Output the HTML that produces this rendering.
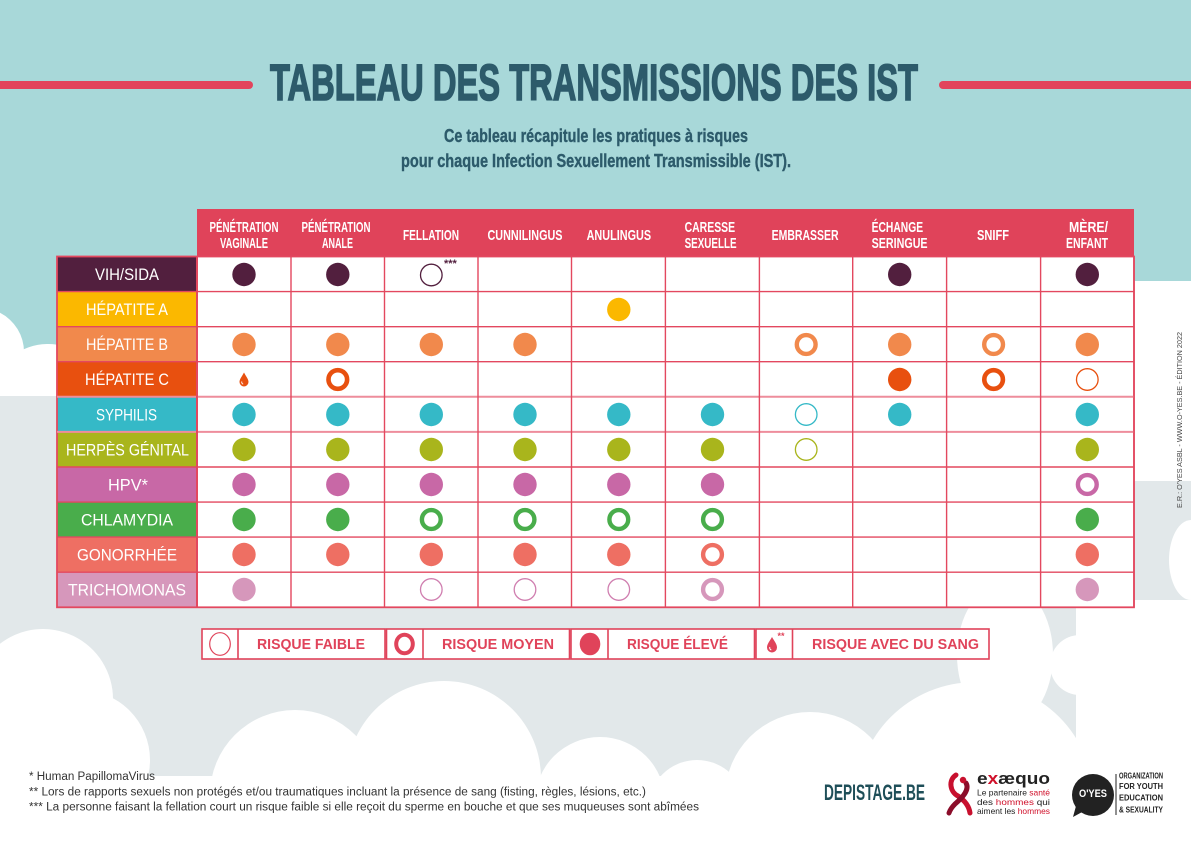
<!DOCTYPE html>
<html><head><meta charset="utf-8"><style>
html,body{margin:0;padding:0;background:#fff;width:1191px;height:842px;overflow:hidden;}
svg{display:block;overflow:hidden;}
text{font-family:"Liberation Sans","DejaVu Sans",sans-serif;}
</style></head><body>
<svg width="1191" height="842" viewBox="0 0 1191 842" xmlns="http://www.w3.org/2000/svg">
<!-- background -->
<rect x="0" y="0" width="1191" height="842" fill="#a8d8d9"/>
<!-- top-left white cloud -->
<path d="M0,312.8 A44,44 0 0 1 24,352 L24,400 L0,400 Z" fill="#fff"/>
<path d="M0,369.4 A58,58 0 0 1 106,402 L106,460 L0,460 Z" fill="#fff"/>
<!-- gray band -->
<rect x="0" y="396" width="1191" height="446" fill="#e2e8ea"/>
<!-- right margin white -->
<rect x="1134" y="281" width="57" height="200" fill="#fff"/>
<path d="M1191,520 A22,40 0 0 0 1191,600 Z" fill="#fff"/>
<!-- bottom white clouds -->
<g fill="#fff">
<path d="M0,643.8 A70,70 0 0 1 113,699 L113,776 L0,776 Z"/>
<circle cx="80" cy="760" r="70"/>
<path d="M210,795 A85,85 0 0 1 380,795 L380,842 L210,842 Z"/>
<path d="M347,778 A97,97 0 0 1 541,778 L541,842 L347,842 Z"/>
<path d="M535,802 A65,65 0 0 1 665,802 L665,842 L535,842 Z"/>
<path d="M648,809 A49,49 0 0 1 746,809 L746,842 L648,842 Z"/>
<path d="M725,797 A85,85 0 0 1 895,797 L895,842 L725,842 Z"/>
<path d="M856,801 A119,119 0 0 1 1094,801 L1094,842 L856,842 Z"/>
<ellipse cx="1005" cy="655" rx="48" ry="72"/>
<rect x="1076" y="600" width="115" height="242"/>
<circle cx="1080" cy="665" r="30"/>
<rect x="0" y="776" width="1191" height="66"/>
</g>

<!-- red lines -->
<rect x="0" y="81" width="249" height="8" fill="#e2445c"/>
<circle cx="249" cy="85" r="4" fill="#e2445c"/>
<rect x="943" y="81" width="248" height="8" fill="#e2445c"/>
<circle cx="943" cy="85" r="4" fill="#e2445c"/>

<!-- title -->
<text x="270" y="100" font-size="51" font-weight="bold" fill="#2d5b6b" stroke="#2d5b6b" stroke-width="1.6" textLength="648" lengthAdjust="spacingAndGlyphs">TABLEAU DES TRANSMISSIONS DES IST</text>
<text x="444" y="142" font-size="18" font-weight="bold" fill="#2d5b6b" stroke="#2d5b6b" stroke-width="0.4" textLength="304" lengthAdjust="spacingAndGlyphs">Ce tableau récapitule les pratiques à risques</text>
<text x="401" y="167" font-size="18" font-weight="bold" fill="#2d5b6b" stroke="#2d5b6b" stroke-width="0.4" textLength="390" lengthAdjust="spacingAndGlyphs">pour chaque Infection Sexuellement Transmissible (IST).</text>

<!-- header -->
<rect x="197" y="209" width="937" height="47.5" fill="#e0435a"/>
<g font-size="15" font-weight="bold" fill="#fff">
<text x="209.5" y="232" textLength="69" lengthAdjust="spacingAndGlyphs">PÉNÉTRATION</text>
<text x="220" y="248" textLength="48" lengthAdjust="spacingAndGlyphs">VAGINALE</text>
<text x="301.5" y="232" textLength="69" lengthAdjust="spacingAndGlyphs">PÉNÉTRATION</text>
<text x="322" y="248" textLength="31" lengthAdjust="spacingAndGlyphs">ANALE</text>
<text x="403" y="240" textLength="56" lengthAdjust="spacingAndGlyphs">FELLATION</text>
<text x="487.5" y="240" textLength="75" lengthAdjust="spacingAndGlyphs">CUNNILINGUS</text>
<text x="586.6" y="240" textLength="64.5" lengthAdjust="spacingAndGlyphs">ANULINGUS</text>
<text x="684.6" y="232" textLength="50.5" lengthAdjust="spacingAndGlyphs">CARESSE</text>
<text x="684.6" y="248" textLength="52" lengthAdjust="spacingAndGlyphs">SEXUELLE</text>
<text x="771.6" y="240" textLength="67" lengthAdjust="spacingAndGlyphs">EMBRASSER</text>
<text x="871.6" y="232" textLength="51.5" lengthAdjust="spacingAndGlyphs">ÉCHANGE</text>
<text x="871.6" y="248" textLength="56" lengthAdjust="spacingAndGlyphs">SERINGUE</text>
<text x="977" y="240" textLength="32" lengthAdjust="spacingAndGlyphs">SNIFF</text>
<text x="1069" y="232" textLength="39" lengthAdjust="spacingAndGlyphs">MÈRE/</text>
<text x="1066" y="248" textLength="42" lengthAdjust="spacingAndGlyphs">ENFANT</text>
</g>

<!-- body cells -->
<rect x="197" y="256.5" width="937" height="350.8" fill="#fff"/>
<!-- label cells -->
<rect x="57" y="256.5" width="140" height="35.1" fill="#521f3e"/>
<rect x="57" y="291.6" width="140" height="35.1" fill="#fbb800"/>
<rect x="57" y="326.7" width="140" height="35.0" fill="#f1894c"/>
<rect x="57" y="361.7" width="140" height="35.1" fill="#e8500f"/>
<rect x="57" y="396.8" width="140" height="35.1" fill="#35b9c7"/>
<rect x="57" y="431.9" width="140" height="35.1" fill="#a9b51c"/>
<rect x="57" y="467.0" width="140" height="35.1" fill="#c868a6"/>
<rect x="57" y="502.1" width="140" height="35.0" fill="#49ad4b"/>
<rect x="57" y="537.1" width="140" height="35.1" fill="#ee6f63"/>
<rect x="57" y="572.2" width="140" height="35.1" fill="#d697bb"/>

<g font-size="16.5" fill="#fff">
<text x="95" y="280" textLength="64" lengthAdjust="spacingAndGlyphs">VIH/SIDA</text>
<text x="86" y="315.1" textLength="82" lengthAdjust="spacingAndGlyphs">HÉPATITE A</text>
<text x="86" y="350.2" textLength="82" lengthAdjust="spacingAndGlyphs">HÉPATITE B</text>
<text x="85" y="385.2" textLength="84" lengthAdjust="spacingAndGlyphs">HÉPATITE C</text>
<text x="96" y="420.3" textLength="61" lengthAdjust="spacingAndGlyphs">SYPHILIS</text>
<text x="66" y="455.4" textLength="123" lengthAdjust="spacingAndGlyphs">HERPÈS GÉNITAL</text>
<text x="108" y="490.5" textLength="40" lengthAdjust="spacingAndGlyphs">HPV*</text>
<text x="81" y="525.6" textLength="92" lengthAdjust="spacingAndGlyphs">CHLAMYDIA</text>
<text x="77" y="560.6" textLength="100" lengthAdjust="spacingAndGlyphs">GONORRHÉE</text>
<text x="68" y="595.7" textLength="118" lengthAdjust="spacingAndGlyphs">TRICHOMONAS</text>
</g>

<!-- grid lines -->
<g stroke="#e3485f" stroke-width="1.4" fill="none">
<rect x="57" y="256.5" width="1077" height="350.8" stroke-width="1.8"/>
<line x1="57" y1="291.6" x2="1134" y2="291.6"/>
<line x1="57" y1="326.7" x2="1134" y2="326.7"/>
<line x1="57" y1="361.7" x2="1134" y2="361.7"/>
<line x1="57" y1="396.8" x2="1134" y2="396.8" stroke="#ee8d9c" stroke-width="2"/>
<line x1="57" y1="431.9" x2="1134" y2="431.9" stroke="#ee8d9c" stroke-width="2"/>
<line x1="57" y1="467.0" x2="1134" y2="467.0"/>
<line x1="57" y1="502.1" x2="1134" y2="502.1"/>
<line x1="57" y1="537.1" x2="1134" y2="537.1"/>
<line x1="57" y1="572.2" x2="1134" y2="572.2"/>
<line x1="197" y1="256.5" x2="197" y2="607.3" stroke-width="2"/>
<line x1="291" y1="256.5" x2="291" y2="607.3"/>
<line x1="384.5" y1="256.5" x2="384.5" y2="607.3"/>
<line x1="478" y1="256.5" x2="478" y2="607.3"/>
<line x1="571.5" y1="256.5" x2="571.5" y2="607.3"/>
<line x1="665.4" y1="256.5" x2="665.4" y2="607.3"/>
<line x1="759.4" y1="256.5" x2="759.4" y2="607.3"/>
<line x1="852.7" y1="256.5" x2="852.7" y2="607.3"/>
<line x1="946.6" y1="256.5" x2="946.6" y2="607.3"/>
<line x1="1040.6" y1="256.5" x2="1040.6" y2="607.3"/>
<line x1="1134" y1="256.5" x2="1134" y2="607.3"/>
</g>

<!-- dots -->
<g fill="#521f3e">
<circle cx="244" cy="274.5" r="11.7"/>
<circle cx="337.8" cy="274.5" r="11.7"/>
<circle cx="899.7" cy="274.5" r="11.7"/>
<circle cx="1087.3" cy="274.5" r="11.7"/>
</g>
<circle cx="431.3" cy="275" r="10.8" fill="none" stroke="#521f3e" stroke-width="1.3"/>
<text x="444" y="267" font-size="11" font-weight="bold" fill="#521f3e">***</text>
<circle cx="618.8" cy="309.5" r="11.7" fill="#fbb800"/>
<g fill="#f1894c">
<circle cx="244" cy="344.5" r="11.7"/>
<circle cx="337.8" cy="344.5" r="11.7"/>
<circle cx="431.3" cy="344.5" r="11.7"/>
<circle cx="525" cy="344.5" r="11.7"/>
<circle cx="899.7" cy="344.5" r="11.7"/>
<circle cx="1087.3" cy="344.5" r="11.7"/>
</g>
<g fill="#fff" stroke="#f1894c" stroke-width="4.4">
<circle cx="806.2" cy="344.5" r="9.4"/>
<circle cx="993.6" cy="344.5" r="9.4"/>
</g>
<path d="M244,372.5 C246,376.5 248.5,379 248.5,382 A4.5,4.5 0 0 1 239.5,382 C239.5,379 242,376.5 244,372.5 Z" fill="#e8500f"/>
<path d="M241.8,381.5 A2.4,2.4 0 0 0 243.2,384.2" fill="none" stroke="#fff" stroke-width="0.9"/>
<g fill="#fff" stroke="#e8500f" stroke-width="4.6">
<circle cx="337.8" cy="379.5" r="9.3"/>
<circle cx="993.6" cy="379.5" r="9.3"/>
</g>
<circle cx="899.7" cy="379.5" r="11.7" fill="#e8500f"/>
<circle cx="1087.3" cy="379.5" r="10.8" fill="none" stroke="#e8500f" stroke-width="1.3"/>
<g fill="#35b9c7">
<circle cx="244" cy="414.5" r="11.7"/>
<circle cx="337.8" cy="414.5" r="11.7"/>
<circle cx="431.3" cy="414.5" r="11.7"/>
<circle cx="525" cy="414.5" r="11.7"/>
<circle cx="618.8" cy="414.5" r="11.7"/>
<circle cx="712.5" cy="414.5" r="11.7"/>
<circle cx="899.7" cy="414.5" r="11.7"/>
<circle cx="1087.3" cy="414.5" r="11.7"/>
</g>
<circle cx="806.2" cy="414.5" r="10.8" fill="none" stroke="#35b9c7" stroke-width="1.3"/>
<g fill="#a9b51c">
<circle cx="244" cy="449.5" r="11.7"/>
<circle cx="337.8" cy="449.5" r="11.7"/>
<circle cx="431.3" cy="449.5" r="11.7"/>
<circle cx="525" cy="449.5" r="11.7"/>
<circle cx="618.8" cy="449.5" r="11.7"/>
<circle cx="712.5" cy="449.5" r="11.7"/>
<circle cx="1087.3" cy="449.5" r="11.7"/>
</g>
<circle cx="806.2" cy="449.5" r="10.8" fill="none" stroke="#a9b51c" stroke-width="1.3"/>
<g fill="#c868a6">
<circle cx="244" cy="484.5" r="11.7"/>
<circle cx="337.8" cy="484.5" r="11.7"/>
<circle cx="431.3" cy="484.5" r="11.7"/>
<circle cx="525" cy="484.5" r="11.7"/>
<circle cx="618.8" cy="484.5" r="11.7"/>
<circle cx="712.5" cy="484.5" r="11.7"/>
</g>
<circle cx="1087.3" cy="484.5" r="9.4" fill="#fff" stroke="#c868a6" stroke-width="4.4"/>
<g fill="#49ad4b">
<circle cx="244" cy="519.5" r="11.7"/>
<circle cx="337.8" cy="519.5" r="11.7"/>
<circle cx="1087.3" cy="519.5" r="11.7"/>
</g>
<g fill="#fff" stroke="#49ad4b" stroke-width="4.4">
<circle cx="431.3" cy="519.5" r="9.4"/>
<circle cx="525" cy="519.5" r="9.4"/>
<circle cx="618.8" cy="519.5" r="9.4"/>
<circle cx="712.5" cy="519.5" r="9.4"/>
</g>
<g fill="#ee6f63">
<circle cx="244" cy="554.5" r="11.7"/>
<circle cx="337.8" cy="554.5" r="11.7"/>
<circle cx="431.3" cy="554.5" r="11.7"/>
<circle cx="525" cy="554.5" r="11.7"/>
<circle cx="618.8" cy="554.5" r="11.7"/>
<circle cx="1087.3" cy="554.5" r="11.7"/>
</g>
<circle cx="712.5" cy="554.5" r="9.4" fill="#fff" stroke="#ee6f63" stroke-width="4.4"/>
<g fill="#d697bb">
<circle cx="244" cy="589.5" r="11.7"/>
<circle cx="1087.3" cy="589.5" r="11.7"/>
</g>
<g fill="none" stroke="#d07fb0" stroke-width="1.3">
<circle cx="431.3" cy="589.5" r="10.8"/>
<circle cx="525" cy="589.5" r="10.8"/>
<circle cx="618.8" cy="589.5" r="10.8"/>
</g>
<circle cx="712.5" cy="589.5" r="9.4" fill="#fff" stroke="#d697bb" stroke-width="4.4"/>

<!-- legend -->
<g stroke="#e0435a" stroke-width="1.6" fill="#fff">
<rect x="202" y="629" width="183" height="30"/>
<rect x="386.5" y="629" width="183" height="30"/>
<rect x="571" y="629" width="183.5" height="30"/>
<rect x="756" y="629" width="233" height="30"/>
<line x1="238" y1="629" x2="238" y2="659"/>
<line x1="423" y1="629" x2="423" y2="659"/>
<line x1="608" y1="629" x2="608" y2="659"/>
<line x1="792.5" y1="629" x2="792.5" y2="659"/>
</g>
<ellipse cx="220" cy="644" rx="10.3" ry="11.3" fill="none" stroke="#e0435a" stroke-width="1.2"/>
<ellipse cx="404.5" cy="644" rx="8.3" ry="9.3" fill="none" stroke="#e0435a" stroke-width="4"/>
<ellipse cx="590" cy="644" rx="10.3" ry="11.3" fill="#e0435a"/>
<path d="M772,637 C774.5,641.5 777,644 777,647.5 A5,5 0 0 1 767,647.5 C767,644 769.5,641.5 772,637 Z" fill="#e0435a"/>
<path d="M769.8,647 A2.6,2.6 0 0 0 771.3,650" fill="none" stroke="#fff" stroke-width="1"/>
<text x="777.5" y="639" font-size="9" font-weight="bold" fill="#e0435a">**</text>
<g font-size="14.5" font-weight="bold" fill="#e0435a">
<text x="257" y="649" textLength="108" lengthAdjust="spacingAndGlyphs">RISQUE FAIBLE</text>
<text x="442" y="649" textLength="112" lengthAdjust="spacingAndGlyphs">RISQUE MOYEN</text>
<text x="627" y="649" textLength="101" lengthAdjust="spacingAndGlyphs">RISQUE ÉLEVÉ</text>
<text x="812" y="649" textLength="167" lengthAdjust="spacingAndGlyphs">RISQUE AVEC DU SANG</text>
</g>

<!-- vertical text -->
<text transform="translate(1182,508) rotate(-90)" font-size="7.5" fill="#444" textLength="176" lengthAdjust="spacingAndGlyphs">E.R.: O'YES ASBL - WWW.O-YES.BE - ÉDITION 2022</text>

<!-- footnotes -->
<g font-size="11.5" fill="#333">
<text x="29" y="780" textLength="126" lengthAdjust="spacingAndGlyphs">* Human PapillomaVirus</text>
<text x="29" y="795.5" textLength="617" lengthAdjust="spacingAndGlyphs">** Lors de rapports sexuels non protégés et/ou traumatiques incluant la présence de sang (fisting, règles, lésions, etc.)</text>
<text x="29" y="810.5" textLength="670" lengthAdjust="spacingAndGlyphs">*** La personne faisant la fellation court un risque faible si elle reçoit du sperme en bouche et que ses muqueuses sont abîmées</text>
</g>

<!-- logos -->
<text x="824" y="800" font-size="22" font-weight="bold" fill="#1e4e58" textLength="101" lengthAdjust="spacingAndGlyphs">DEPISTAGE.BE</text>
<path d="M956,775 C948,780 950,792 958,796 C964,800 969,806 970,813" fill="none" stroke="#c8102e" stroke-width="5" stroke-linecap="round"/>
<path d="M966,783 C970,790 962,798 955,804 C952,807 950,810 949,813" fill="none" stroke="#8b0d2a" stroke-width="5" stroke-linecap="round"/>
<circle cx="963" cy="780" r="3.2" fill="#c8102e"/>
<text x="977" y="784" font-size="17" font-weight="bold" fill="#222" textLength="73" lengthAdjust="spacingAndGlyphs">e<tspan fill="#d0112b">x</tspan>æquo</text>
<g font-size="8.5" fill="#222">
<text x="977" y="795.5" textLength="73" lengthAdjust="spacingAndGlyphs">Le partenaire <tspan fill="#d0112b">santé</tspan></text>
<text x="977" y="805" textLength="73" lengthAdjust="spacingAndGlyphs">des <tspan fill="#d0112b">hommes</tspan> qui</text>
<text x="977" y="814" textLength="73" lengthAdjust="spacingAndGlyphs">aiment les <tspan fill="#d0112b">hommes</tspan></text>
</g>
<circle cx="1093" cy="795" r="21" fill="#222"/>
<path d="M1076,806 L1073,817 L1084,811 Z" fill="#222"/>
<text x="1079" y="797" font-size="11" font-weight="bold" fill="#fff" textLength="28" lengthAdjust="spacingAndGlyphs">O'YES</text>
<line x1="1116" y1="774" x2="1116" y2="815" stroke="#222" stroke-width="1"/>
<g font-size="8" font-weight="bold" fill="#222">
<text x="1119" y="778.5" textLength="44" lengthAdjust="spacingAndGlyphs">ORGANIZATION</text>
<text x="1119" y="789" textLength="44" lengthAdjust="spacingAndGlyphs">FOR YOUTH</text>
<text x="1119" y="800.5" textLength="44" lengthAdjust="spacingAndGlyphs">EDUCATION</text>
<text x="1119" y="812.5" textLength="44" lengthAdjust="spacingAndGlyphs">&amp; SEXUALITY</text>
</g>
</svg>
</body></html>
